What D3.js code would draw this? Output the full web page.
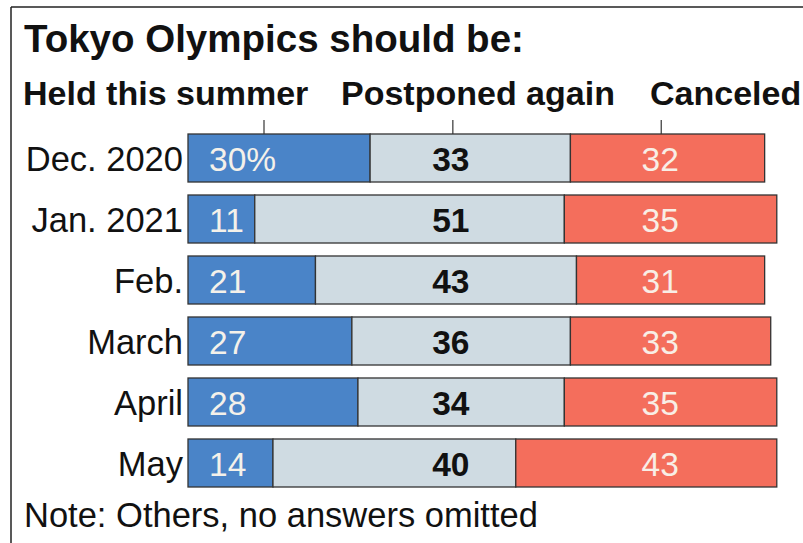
<!DOCTYPE html>
<html>
<head>
<meta charset="utf-8">
<script src="https://cdn.jsdelivr.net/npm/d3@7"></script>
<style>
  html, body { margin: 0; padding: 0; background: #fff; }
  svg { display: block; font-family: "Liberation Sans", Arial, sans-serif; }
</style>
</head>
<body>
<svg id="chart" width="803" height="543"></svg>
<script>
// survey months and answer shares (%)
const months = ["Dec. 2020", "Jan. 2021", "Feb.", "March", "April", "May"];
const heldThisSummer = [30, 11, 21, 27, 28, 14];
const postponedAgain = [33, 51, 43, 36, 34, 40];
const canceled = [32, 35, 31, 33, 35, 43];
const answerNames = ["Held this summer", "Postponed again", "Canceled"];

const W = 803, H = 543;
const svg = d3.select("#chart");

const colors = ["#4a84c8", "#cfdbe2", "#f46e5c"];
const labelFill = ["#f4f1ea", "#111", "#f8eee6"];
const labelWeight = ["normal", "bold", "normal"];

// frame: top rule + left rule
svg.append("line")
  .attr("x1", 11).attr("x2", W).attr("y1", 7).attr("y2", 7)
  .attr("stroke", "#222").attr("stroke-width", 1.5);
svg.append("line")
  .attr("x1", 11).attr("x2", 11).attr("y1", 7).attr("y2", H)
  .attr("stroke", "#222").attr("stroke-width", 1.5);

svg.append("text")
  .attr("x", 24).attr("y", 52)
  .style("font-size", "38.5px").style("font-weight", "bold")
  .attr("fill", "#111")
  .text("Tokyo Olympics should be:");

const x = d3.scaleLinear().domain([0, 100]).range([188, 795]);
const y = d3.scaleBand().domain(months).range([134, 487]).paddingInner(0.213);

// stack the three answers
const rows = months.map((m, i) => ({
  month: m,
  vals: [heldThisSummer[i], postponedAgain[i], canceled[i]]
}));
rows.forEach(r => {
  let acc = 0;
  r.segs = r.vals.map((v, k) => {
    const s = { k, v, x0: acc, x1: acc + v };
    acc += v;
    return s;
  });
});

// label columns: blue left-aligned, others centred in a fixed column
const colX = [x(0) + 21, x(43.3), x(77.8)];
const colAnchor = ["start", "middle", "middle"];

// headers + little ticks down to the first bar
const headX = [23, 341, 650];
answerNames.forEach((name, k) => {
  svg.append("text")
    .attr("x", headX[k]).attr("y", 105)
    .style("font-size", "34px").style("font-weight", "bold")
    .attr("fill", "#111")
    .text(name);
});
const tickX = [264, colX[1] + 2, colX[2] + 1];
tickX.forEach(tx => {
  svg.append("line")
    .attr("x1", tx).attr("x2", tx)
    .attr("y1", 120).attr("y2", y(months[0]))
    .attr("stroke", "#444").attr("stroke-width", 1.3);
});

const row = svg.selectAll("g.row")
  .data(rows)
  .join("g")
  .attr("class", "row")
  .attr("transform", d => `translate(0,${y(d.month)})`);

row.selectAll("rect")
  .data(d => d.segs)
  .join("rect")
  .attr("x", d => x(d.x0))
  .attr("width", d => x(d.x1) - x(d.x0))
  .attr("height", y.bandwidth())
  .attr("fill", d => colors[d.k])
  .attr("stroke", "#333")
  .attr("stroke-width", 1.3);

row.selectAll("text.val")
  .data((d, i) => d.segs.map(s => ({ ...s, first: i === 0 })))
  .join("text")
  .attr("class", "val")
  .attr("x", d => colX[d.k])
  .attr("y", y.bandwidth() / 2 + 13)
  .attr("text-anchor", d => colAnchor[d.k])
  .style("font-size", "33.5px")
  .style("font-weight", d => labelWeight[d.k])
  .attr("fill", d => labelFill[d.k])
  .text(d => d.k === 0 && d.first ? d.v + "%" : d.v);

// category labels
row.append("text")
  .attr("x", x(0) - 5)
  .attr("y", y.bandwidth() / 2 + 13)
  .attr("text-anchor", "end")
  .style("font-size", "34.5px")
  .attr("fill", "#111")
  .text(d => d.month);

svg.append("text")
  .attr("x", 24).attr("y", 527)
  .style("font-size", "34.5px")
  .attr("fill", "#111")
  .text("Note: Others, no answers omitted");
</script>
</body>
</html>
